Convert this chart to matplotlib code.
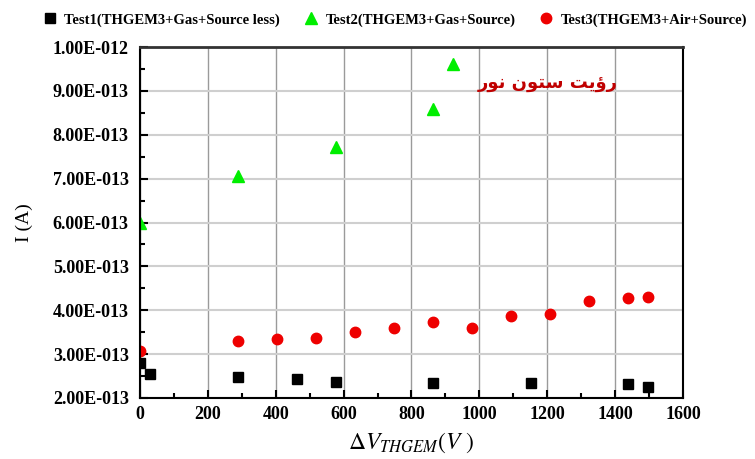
import matplotlib.pyplot as plt
from matplotlib.ticker import MultipleLocator, FixedLocator, FixedFormatter

plt.rcParams['font.family'] = ['Liberation Serif', 'DejaVu Serif']
plt.rcParams['mathtext.fontset'] = 'stix'

# Test1: THGEM3 + gas, no source
v1 = [0, 30, 290, 462, 577, 864, 1151, 1438, 1496]
i1 = [2.79e-13, 2.55e-13, 2.47e-13, 2.43e-13, 2.36e-13, 2.35e-13, 2.35e-13, 2.31e-13, 2.24e-13]

# Test2: THGEM3 + gas + source
v2 = [0, 290, 577, 864, 922]
i2 = [6.00e-13, 7.05e-13, 7.72e-13, 8.58e-13, 9.62e-13]

# Test3: THGEM3 + air + source
v3 = [0, 290, 404, 518, 634, 749, 864, 979, 1094, 1208, 1323, 1439, 1497]
i3 = [3.07e-13, 3.29e-13, 3.35e-13, 3.36e-13, 3.51e-13, 3.60e-13, 3.74e-13,
      3.60e-13, 3.88e-13, 3.92e-13, 4.21e-13, 4.29e-13, 4.30e-13]

labels = ['Test1(THGEM3+Gas+Source less)', 'Test2(THGEM3+Gas+Source)',
          'Test3(THGEM3+Air+Source)']
y_ticks = [2e-13, 3e-13, 4e-13, 5e-13, 6e-13, 7e-13, 8e-13, 9e-13, 1e-12]
y_tick_labels = ['2.00E-013', '3.00E-013', '4.00E-013', '5.00E-013', '6.00E-013',
                 '7.00E-013', '8.00E-013', '9.00E-013', '1.00E-012']

# "رؤیت ستون نور" in presentation forms, visual order
note = '\uFEAD\uFEEE\uFEE7 \uFEE5\uFEEE\uFE98\uFEB3 \uFE96\uFBFE\uFE85\uFEAD'

fig = plt.figure(figsize=(7.55, 4.59), dpi=100)
ax = fig.add_axes([0.1854, 0.1329, 0.7192, 0.7647])

ax.plot(v1, i1, 's', color='black', ms=7, label=labels[0])
ax.plot(v2, i2, '^', color='#00ee00', ms=8, label=labels[1])
ax.plot(v3, i3, 'o', color='#ee0000', ms=7.5, label=labels[2])

ax.set_xlim(0, 1600)
ax.set_ylim(2e-13, 1e-12)
ax.xaxis.set_major_locator(MultipleLocator(200))
ax.xaxis.set_minor_locator(MultipleLocator(100))
ax.yaxis.set_major_locator(FixedLocator(y_ticks))
ax.yaxis.set_major_formatter(FixedFormatter(y_tick_labels))
ax.yaxis.set_minor_locator(MultipleLocator(0.5e-13))

ax.xaxis.grid(True, which='major', color='#9a9a9a', lw=1)
ax.yaxis.grid(True, which='major', color='#cfcfcf', lw=1.5)
ax.set_axisbelow(True)
ax.tick_params(which='both', direction='in', width=1.5)
ax.tick_params(which='major', length=6, labelsize=13)
ax.tick_params(which='minor', length=3.5)
ax.tick_params(axis='y', which='major', pad=8)
ax.tick_params(axis='x', which='major', pad=6)
for lab in ax.get_xticklabels() + ax.get_yticklabels():
    lab.set_fontweight('bold')
for side in ['left', 'bottom', 'right']:
    ax.spines[side].set_linewidth(1.5)
ax.spines['top'].set_color('#333333')
ax.spines['top'].set_linewidth(2)

ax.set_ylabel('I (A)', fontsize=14, labelpad=14)
ax.set_xlabel(r'$\Delta V_{THGEM}(V\ )$', fontsize=17, labelpad=5)

ax.text(1203, 9.15e-13, note, color='#c00000', fontsize=13, fontweight='bold',
        family=['DejaVu Sans'], ha='center', va='center')

fig.legend(loc='upper center', bbox_to_anchor=(0.522, 1.0), ncol=3, frameon=False,
           prop={'weight': 'bold', 'size': 10.5}, handletextpad=0.4,
           columnspacing=1.5, handlelength=1.2)

fig.savefig('out.png', dpi=100)
